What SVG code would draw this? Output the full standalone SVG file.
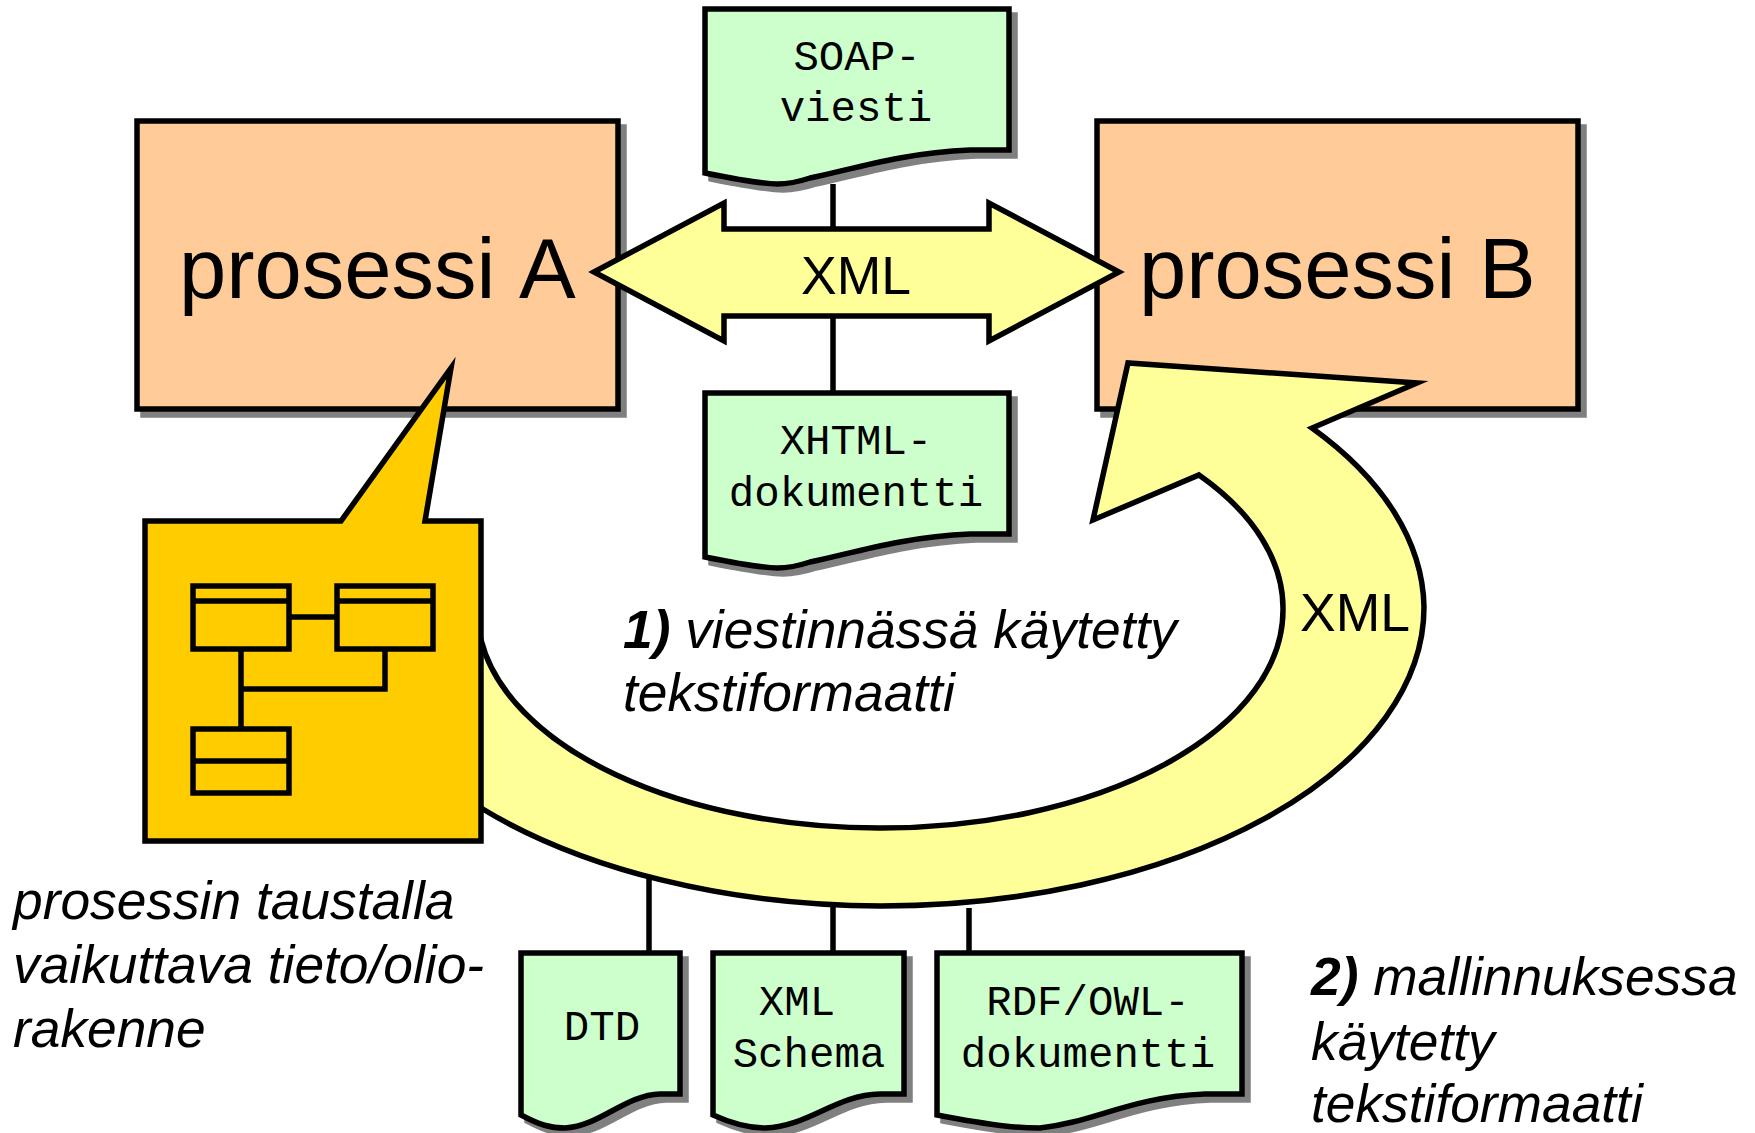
<svg xmlns="http://www.w3.org/2000/svg" width="1755" height="1133" viewBox="0 0 1755 1133">
<style>
.o{stroke:#000;stroke-width:5.5;stroke-miterlimit:20;stroke-linejoin:miter}
.s{fill:#808080;stroke:#808080;stroke-width:5.5;stroke-miterlimit:20}
.c{fill:none;stroke:#000;stroke-width:5.5}
.t{fill:none;stroke:#000;stroke-width:5.5}
.sans{font-family:"Liberation Sans",Arial,sans-serif;fill:#000}
.big{font-size:85px;font-kerning:none}
.mid{font-size:53.5px}
.it{font-size:53.3px;font-style:italic}
.mono{font-family:"Liberation Mono","Courier New",monospace;font-size:42.4px;fill:#000;text-anchor:middle}
.doc{fill:#CCFFCC}
</style>
<rect width="1755" height="1133" fill="#fff"/>
<g id="connectors">
<path class="c" d="M833 184V229M833 316V393M649 876V953M833 904V953M969 908V953"/>
</g>
<g id="prosessi-a">
<rect class="s" x="143" y="127" width="481" height="288"/>
<rect class="o" x="137" y="121" width="481" height="288" fill="#FFCC99"/>
<text class="sans big" x="179" y="298">prosessi A</text>
</g>
<g id="prosessi-b">
<rect class="s" x="1103" y="127" width="481" height="288"/>
<rect class="o" x="1097" y="121" width="481" height="288" fill="#FFCC99"/>
<text class="sans big" x="1139" y="298">prosessi B</text>
</g>
<g id="soap">
<path class="s" transform="translate(6 6)" d="M705 9H1009V150H970C900 153 850 170 810 178C795 183 785 184 777 184Q760 184 705 173Z"/>
<path class="o doc" d="M705 9H1009V150H970C900 153 850 170 810 178C795 183 785 184 777 184Q760 184 705 173Z"/>
<text class="mono" x="857" y="70">SOAP-</text>
<text class="mono" x="856" y="121">viesti</text>
</g>
<g id="xhtml">
<path class="s" transform="translate(6 6)" d="M705 393H1009V534H970C900 537 850 554 810 562C795 567 785 568 777 568Q760 568 705 557Z"/>
<path class="o doc" d="M705 393H1009V534H970C900 537 850 554 810 562C795 567 785 568 777 568Q760 568 705 557Z"/>
<text class="mono" x="856" y="454">XHTML-</text>
<text class="mono" x="856" y="506">dokumentti</text>
</g>
<g id="xml-arrow-top">
<path class="o" fill="#FFFF99" d="M594 272L724 203V229H989V203L1119 272L989 341V316H724V341Z"/>
<text class="sans mid" x="856" y="294" text-anchor="middle">XML</text>
</g>
<g id="xml-arrow-curved">
<path class="o" fill="#FFFF99" d="M470 808L481 808A543 299 0 0 0 881 906A543 299 0 0 0 1424 607A543 299 0 0 0 1312 428L1417 383L1128 363L1093 520L1199 475A402 218 0 0 1 1283 610A402 218 0 0 1 881 828A402 218 0 0 1 481 640L470 640Z"/>
<text class="sans mid" x="1355" y="631" text-anchor="middle">XML</text>
</g>
<g id="rakenne">
<path class="o" fill="#FFCC00" d="M145 521H341L451 368L425 521H481V841H145Z"/>
<path class="t" d="M193 586H289V649H193ZM193 601H289M337 586H433V649H337ZM337 601H433M289 617H337M241 649V729M241 689H385V649M193 729H289V793H193ZM193 761H289"/>
</g>
<g id="dtd">
<path class="s" transform="translate(6 6)" d="M521 953H680V1094H660C625 1095 600 1126 565 1128C550 1128 540 1125 521 1115Z"/>
<path class="o doc" d="M521 953H680V1094H660C625 1095 600 1126 565 1128C550 1128 540 1125 521 1115Z"/>
<text class="mono" x="602" y="1040">DTD</text>
</g>
<g id="xml-schema">
<path class="s" transform="translate(6 6)" d="M713 953H904V1094H880C835 1095 810 1126 765 1128C750 1128 735 1125 713 1115Z"/>
<path class="o doc" d="M713 953H904V1094H880C835 1095 810 1126 765 1128C750 1128 735 1125 713 1115Z"/>
<text class="mono" x="797" y="1015">XML</text>
<text class="mono" x="809" y="1067">Schema</text>
</g>
<g id="rdf">
<path class="s" transform="translate(6 6)" d="M937 953H1242V1094H1205C1130 1097 1095 1122 1040 1128C1020 1128 1000 1127 937 1115Z"/>
<path class="o doc" d="M937 953H1242V1094H1205C1130 1097 1095 1122 1040 1128C1020 1128 1000 1127 937 1115Z"/>
<text class="mono" x="1088" y="1015">RDF/OWL-</text>
<text class="mono" x="1088" y="1067">dokumentti</text>
</g>
<g id="labels">
<text class="sans it" x="623" y="648"><tspan font-weight="bold">1)</tspan> viestinnässä käytetty</text>
<text class="sans it" x="623" y="711">tekstiformaatti</text>
<text class="sans it" x="13" y="919">prosessin taustalla</text>
<text class="sans it" x="13" y="983">vaikuttava tieto/olio-</text>
<text class="sans it" x="13" y="1047">rakenne</text>
<text class="sans it" x="1311" y="995"><tspan font-weight="bold">2)</tspan> mallinnuksessa</text>
<text class="sans it" x="1311" y="1060">käytetty</text>
<text class="sans it" x="1311" y="1122">tekstiformaatti</text>
</g>
</svg>
